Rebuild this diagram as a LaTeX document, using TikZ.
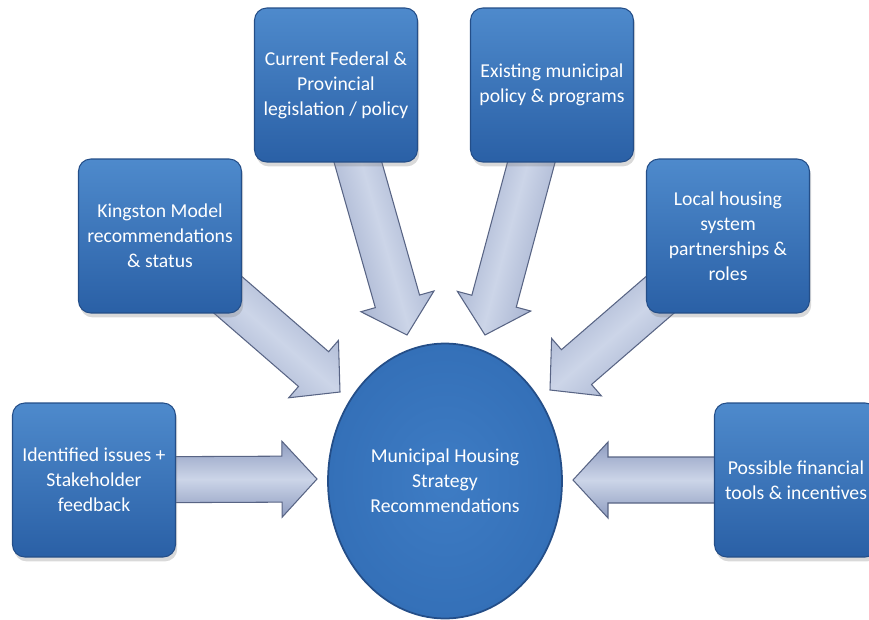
\documentclass[tikz,border=0pt]{standalone}
\usepackage{fontspec}
\setmainfont{Carlito}
\usetikzlibrary{shapes.geometric,shadows,calc}

\pgfdeclarelayer{background}
\pgfsetlayers{background,main}

\definecolor{boxtop}{RGB}{78,138,204}
\definecolor{boxbottom}{RGB}{42,96,166}
\definecolor{boxline}{RGB}{36,78,136}
\definecolor{hubin}{RGB}{62,124,196}
\definecolor{hubout}{RGB}{52,112,184}
\definecolor{flowmid}{RGB}{204,213,232}
\definecolor{flowedge}{RGB}{142,156,192}
\definecolor{flowline}{RGB}{88,100,132}

\begin{document}
\begin{tikzpicture}[x=0.02cm,y=-0.02cm]
% Define common styles
\tikzset{
    source/.style={draw=boxline, line width=0.6pt, rounded corners=7pt,
        minimum width=3.26cm, minimum height=3.08cm,
        top color=boxtop, bottom color=boxbottom,
        text=white, align=center, font=\fontsize{11.2}{14.2}\selectfont,
        drop shadow={shadow xshift=1pt, shadow yshift=-2.5pt, opacity=0.3}},
    hub/.style={ellipse, draw=boxline, line width=1pt, inner sep=0pt,
        minimum width=4.68cm, minimum height=5.5cm,
        inner color=hubin, outer color=hubout,
        text=white, align=center, font=\fontsize{11.2}{14.2}\selectfont},
    flow/.style={draw=flowline, line width=0.6pt, line join=miter,
        top color=flowedge, bottom color=flowedge, middle color=flowmid}
}

\useasboundingbox (0,0) rectangle (869,619);
\clip (0,0) rectangle (869,619);

% Centre
\node[hub] (strategy) at (445,481) {Municipal Housing\\Strategy\\Recommendations};

% Inputs around it
\node[source] (issues) at (94,480) {Identified issues +\\Stakeholder\\feedback};
\node[source] (kingston) at (160,236) {Kingston Model\\recommendations\\\& status};
\node[source] (federal) at (336,85) {Current Federal \&\\Provincial\\legislation / policy};
\node[source] (existing) at (552,85) {Existing municipal\\policy \& programs};
\node[source] (local) at (728,236) {Local housing\\system\\partnerships \&\\roles};
\node[source] (financial) at (796,480) {Possible financial\\tools \& incentives};

% Arrow tips, stopping short of the ellipse
\coordinate (tipissues) at (317,479);
\coordinate (tipkingston) at (340,392);
\coordinate (tipfederal) at (407,335);
\coordinate (tipexisting) at (485,335);
\coordinate (tiplocal) at (550,390);
\coordinate (tipfinancial) at (573,480);

% Block arrows, behind the boxes
\begin{pgfonlayer}{background}
\foreach \from/\to/\ang in {issues/tipissues/0, kingston/tipkingston/-41,
    federal/tipfederal/-74, existing/tipexisting/-105,
    local/tiplocal/-139, financial/tipfinancial/180} {
  \coordinate (base) at ($(\to)!0.7cm!(\from)$);
  \draw[flow, shading angle=\ang]
    ($(\from)!0.46cm!90:(\to)$) -- ($(base)!0.46cm!90:(\to)$)
    -- ($(base)!0.76cm!90:(\to)$) -- (\to)
    -- ($(base)!0.76cm!-90:(\to)$) -- ($(base)!0.46cm!-90:(\to)$)
    -- ($(\from)!0.46cm!-90:(\to)$) -- cycle;
}
\end{pgfonlayer}

\end{tikzpicture}
\end{document}
